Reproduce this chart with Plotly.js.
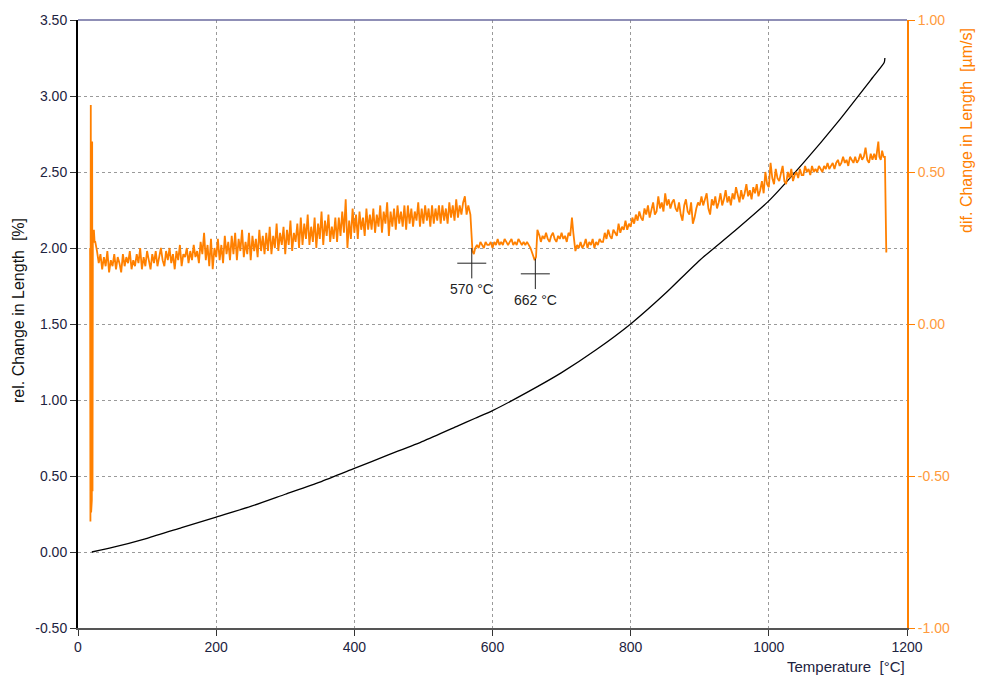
<!DOCTYPE html>
<html>
<head>
<meta charset="utf-8">
<script src="https://cdn.plot.ly/plotly-3.0.1.min.js"></script>
<style>
html,body{margin:0;padding:0;background:#fff;}
#chart{width:981px;height:679px;}
</style>
</head>
<body>
<div id="chart"></div>
<script>
// Black curve: relative change in length [%] (left axis)
const relTemp = [20, 50, 100, 150, 200, 250, 300, 350, 400, 450, 500, 550, 575, 600, 650, 700, 750, 800, 850, 900, 950, 1000, 1050, 1100, 1150, 1167, 1168];
const relChange = [0.00, 0.03, 0.09, 0.16, 0.23, 0.30, 0.38, 0.46, 0.55, 0.64, 0.73, 0.83, 0.88, 0.93, 1.05, 1.18, 1.33, 1.50, 1.70, 1.92, 2.11, 2.31, 2.56, 2.83, 3.12, 3.22, 3.25];

// Orange curve: differential change in length [µm/s] (right axis), read in segments
// start spike (explicit temperatures)
const headTemp = [17.5, 18, 18.5, 19, 19.5, 20, 20.5, 21, 21.5, 22, 23, 24];
const headRate = [0.25, -0.65, 0.72, -0.62, 0.70, -0.58, 0.60, -0.55, 0.30, 0.28, 0.31, 0.27];
// 25 .. 565 °C, every 2.5 °C
const rateLow = [
  0.27, 0.24, 0.20, 0.23, 0.18, 0.22, 0.19, 0.24, 0.17, 0.21, 0.19, 0.23, 0.18, 0.22, 0.20, 0.17, 0.23, 0.19, 0.22, 0.20,
  0.24, 0.18, 0.21, 0.19, 0.23, 0.20, 0.25, 0.18, 0.22, 0.19, 0.24, 0.21, 0.18, 0.23, 0.20, 0.24, 0.19, 0.22, 0.25, 0.21,
  0.19, 0.24, 0.21, 0.25, 0.20, 0.23, 0.18, 0.24, 0.21, 0.26, 0.19, 0.23, 0.22, 0.25, 0.20, 0.24, 0.21, 0.26, 0.22, 0.24,
  0.20, 0.27, 0.23, 0.30, 0.21, 0.26, 0.19, 0.28, 0.18, 0.25, 0.22, 0.28, 0.21, 0.26, 0.20, 0.29, 0.23, 0.27, 0.21, 0.29,
  0.23, 0.30, 0.21, 0.28, 0.24, 0.31, 0.22, 0.27, 0.23, 0.30, 0.21, 0.29, 0.24, 0.28, 0.22, 0.31, 0.24, 0.29, 0.23, 0.30,
  0.24, 0.32, 0.23, 0.29, 0.25, 0.33, 0.24, 0.30, 0.26, 0.32, 0.23, 0.31, 0.26, 0.34, 0.24, 0.30, 0.27, 0.33, 0.25, 0.35,
  0.26, 0.33, 0.28, 0.36, 0.26, 0.32, 0.27, 0.35, 0.25, 0.33, 0.28, 0.37, 0.26, 0.34, 0.29, 0.36, 0.27, 0.32, 0.28, 0.35,
  0.27, 0.35, 0.29, 0.37, 0.30, 0.41, 0.25, 0.34, 0.28, 0.38, 0.30, 0.36, 0.28, 0.37, 0.31, 0.35, 0.29, 0.38, 0.31, 0.36,
  0.31, 0.38, 0.30, 0.36, 0.32, 0.39, 0.30, 0.37, 0.33, 0.40, 0.29, 0.37, 0.32, 0.38, 0.31, 0.39, 0.33, 0.37, 0.32, 0.39,
  0.31, 0.39, 0.33, 0.38, 0.32, 0.37, 0.34, 0.40, 0.32, 0.38, 0.33, 0.39, 0.34, 0.38, 0.32, 0.39, 0.33, 0.38, 0.34, 0.39,
  0.33, 0.39, 0.34, 0.38, 0.33, 0.40, 0.35, 0.39, 0.34, 0.41, 0.35, 0.39, 0.36, 0.40, 0.42, 0.36, 0.39
];
// drop at 570 °C
const drop1Temp = [568, 570, 571, 573];
const drop1Rate = [0.36, 0.30, 0.24, 0.23];
// 575 .. 652.5 °C, every 2.5 °C
const rateMid = [
  0.25, 0.26, 0.25, 0.27, 0.26, 0.25, 0.27, 0.26, 0.26, 0.27, 0.25, 0.27, 0.26, 0.28, 0.26, 0.27,
  0.26, 0.28, 0.27, 0.26, 0.27, 0.28, 0.26, 0.27, 0.26, 0.28, 0.27, 0.26, 0.27, 0.26, 0.27, 0.26
];
// dip at 662 °C
const dip2Temp = [655, 658, 661, 663, 665, 668];
const dip2Rate = [0.25, 0.23, 0.21, 0.22, 0.31, 0.29];
// 670 .. 712.5 °C, every 2.5 °C
const rateStep = [0.27, 0.29, 0.28, 0.30, 0.28, 0.27, 0.29, 0.30, 0.28, 0.27, 0.29, 0.28, 0.30, 0.28, 0.29, 0.27, 0.30, 0.29];
// spike at ~715 °C
const spikeTemp = [715, 717, 719];
const spikeRate = [0.35, 0.30, 0.25];
// 720 .. 1137.5 °C, every 2.5 °C
const rateHigh = [
  0.24, 0.26, 0.25, 0.27, 0.25, 0.26, 0.28, 0.25, 0.27, 0.26, 0.28, 0.25, 0.27, 0.26, 0.28, 0.27,
  0.27, 0.30, 0.28, 0.31, 0.29, 0.28, 0.31, 0.30, 0.29, 0.33, 0.30, 0.32, 0.31, 0.34, 0.31, 0.33, 0.32,
  0.35, 0.33, 0.36, 0.34, 0.37, 0.35, 0.34, 0.38, 0.36, 0.39, 0.35, 0.38, 0.40, 0.36, 0.37, 0.42, 0.38, 0.40, 0.37, 0.43, 0.39, 0.41, 0.38, 0.40,
  0.41, 0.38, 0.37, 0.40, 0.36, 0.34, 0.39, 0.41, 0.37, 0.36, 0.40, 0.33, 0.35, 0.38, 0.40, 0.39,
  0.42, 0.39, 0.41, 0.43, 0.38, 0.36, 0.41, 0.39, 0.42, 0.38, 0.40, 0.43, 0.39, 0.41, 0.44, 0.40, 0.42, 0.39, 0.43, 0.41,
  0.45, 0.42, 0.40, 0.44, 0.41, 0.43, 0.46, 0.42, 0.44, 0.41, 0.45, 0.43, 0.46, 0.42, 0.44, 0.47, 0.43, 0.50, 0.46,
  0.45, 0.53, 0.48, 0.46, 0.51, 0.48, 0.47, 0.50, 0.52, 0.47, 0.46, 0.50, 0.48, 0.51, 0.47, 0.49, 0.50, 0.48, 0.51, 0.49,
  0.49, 0.52, 0.50, 0.51, 0.49, 0.52, 0.50, 0.51, 0.50, 0.52, 0.51, 0.50, 0.52, 0.51, 0.53, 0.51, 0.52, 0.53, 0.51, 0.53,
  0.54, 0.52, 0.53, 0.55, 0.53, 0.54, 0.52, 0.55, 0.54, 0.53, 0.55, 0.53, 0.54, 0.56, 0.54, 0.55
];
// end of run (explicit temperatures)
const tailTemp = [1140, 1142.5, 1145, 1147.5, 1150, 1152.5, 1155, 1157, 1158.5, 1160, 1162, 1164, 1166, 1168, 1169, 1169.5, 1170, 1170.3];
const tailRate = [0.58, 0.54, 0.53, 0.56, 0.54, 0.56, 0.54, 0.57, 0.60, 0.55, 0.54, 0.57, 0.55, 0.55, 0.42, 0.30, 0.235, 0.25];

// Marked transformation points
const peakTemp = [570, 662];
const peakLevel = [1.90, 1.83];
const peakLabel = ["570 °C", "662 °C"];

// Axis ticks
const xTicks = [0, 200, 400, 600, 800, 1000, 1200];
const yTicks = [-0.5, 0, 0.5, 1, 1.5, 2, 2.5, 3, 3.5];
const yTickText = ["-0.50", "0.00", "0.50", "1.00", "1.50", "2.00", "2.50", "3.00", "3.50"];
const y2Ticks = [-1, -0.5, 0, 0.5, 1];
const y2TickText = ["-1.00", "-0.50", "0.00", "0.50", "1.00"];

// sampling grid for evenly-sampled segments
function grid(start, step, n) { const t = []; for (let i = 0; i < n; i++) t.push(start + i * step); return t; }
const difTemp = [].concat(
  headTemp, grid(25, 2.5, rateLow.length), drop1Temp, grid(575, 2.5, rateMid.length),
  dip2Temp, grid(670, 2.5, rateStep.length), spikeTemp, grid(720, 2.5, rateHigh.length), tailTemp);
const difRate = [].concat(headRate, rateLow, drop1Rate, rateMid, dip2Rate, rateStep, spikeRate, rateHigh, tailRate);

const ORANGE = "#ff8000";
const LABEL = "#1d2340";
const FONT = "Liberation Sans, Arial, sans-serif";
const SP = "\u00a0\u00a0";

const traces = [
  {x: relTemp, y: relChange, type: "scatter", mode: "lines", line: {color: "#000", width: 1.3, shape: "spline", smoothing: 0.6}, yaxis: "y", hoverinfo: "skip"},
  {x: difTemp, y: difRate, type: "scatter", mode: "lines", line: {color: ORANGE, width: 1.8}, yaxis: "y2", hoverinfo: "skip"}
];

const shapes = [
  {type: "line", xref: "paper", yref: "paper", x0: 0, x1: 1, y0: 1, y1: 1, line: {color: "#6a6a9e", width: 1.5}}
];
const annotations = [
  {xref: "paper", yref: "paper", x: 1, y: -0.064, xanchor: "right", yanchor: "middle", text: "Temperature" + SP + "[°C]", showarrow: false, font: {family: FONT, size: 15, color: LABEL}},
  {xref: "paper", yref: "paper", x: -0.0724, y: 0.523, xanchor: "center", yanchor: "middle", textangle: -90, text: "rel. Change in Length" + SP + "[%]", showarrow: false, font: {family: FONT, size: 16, color: "#111"}},
  {xref: "paper", yref: "paper", x: 1.071, y: 0.819, xanchor: "center", yanchor: "middle", textangle: -90, text: "dif. Change in Length" + SP + "[µm/s]", showarrow: false, font: {family: FONT, size: 16, color: ORANGE}}
];
peakTemp.forEach((t, i) => {
  const lv = peakLevel[i];
  shapes.push({type: "line", xref: "x", yref: "y", x0: t, x1: t, y0: lv - 0.10, y1: lv + 0.10, line: {color: "#222", width: 1}});
  shapes.push({type: "line", xref: "x", yref: "y", x0: t - 21, x1: t + 21, y0: lv, y1: lv, line: {color: "#222", width: 1}});
  annotations.push({xref: "x", yref: "y", x: t, y: lv, yshift: -26, xanchor: "center", yanchor: "middle", text: peakLabel[i], showarrow: false, font: {family: FONT, size: 14, color: "#222"}});
});

const layout = {
  width: 981, height: 679,
  margin: {l: 78, r: 74, t: 20, b: 51, pad: 0},
  paper_bgcolor: "#fff", plot_bgcolor: "#fff",
  showlegend: false,
  font: {family: FONT, size: 14, color: LABEL},
  xaxis: {
    range: [0, 1200], tickvals: xTicks, ticktext: xTicks.map(String),
    showgrid: true, gridcolor: "#9a9a9a", griddash: "3px,3px", gridwidth: 1,
    zeroline: false, showline: true, linecolor: "#555", linewidth: 1.5,
    ticks: "outside", ticklen: 6, tickcolor: "#333", tickwidth: 1,
    tickfont: {family: FONT, size: 14, color: LABEL}, fixedrange: true
  },
  yaxis: {
    range: [-0.5, 3.5], tickvals: yTicks, ticktext: yTickText,
    showgrid: true, gridcolor: "#9a9a9a", griddash: "3px,3px", gridwidth: 1,
    zeroline: false, showline: true, linecolor: "#000", linewidth: 2,
    ticks: "outside", ticklen: 6, tickcolor: "#333", tickwidth: 1,
    tickfont: {family: FONT, size: 14, color: LABEL}, fixedrange: true
  },
  yaxis2: {
    overlaying: "y", side: "right", range: [-1, 1], tickvals: y2Ticks, ticktext: y2TickText,
    showgrid: false, zeroline: false, showline: true, linecolor: ORANGE, linewidth: 2,
    ticks: "outside", ticklen: 6, tickcolor: ORANGE, tickwidth: 1,
    tickfont: {family: FONT, size: 14, color: "#ff9a3c"}, fixedrange: true
  },
  shapes: shapes,
  annotations: annotations
};

Plotly.newPlot("chart", traces, layout, {staticPlot: true, displayModeBar: false});
</script>
</body>
</html>
